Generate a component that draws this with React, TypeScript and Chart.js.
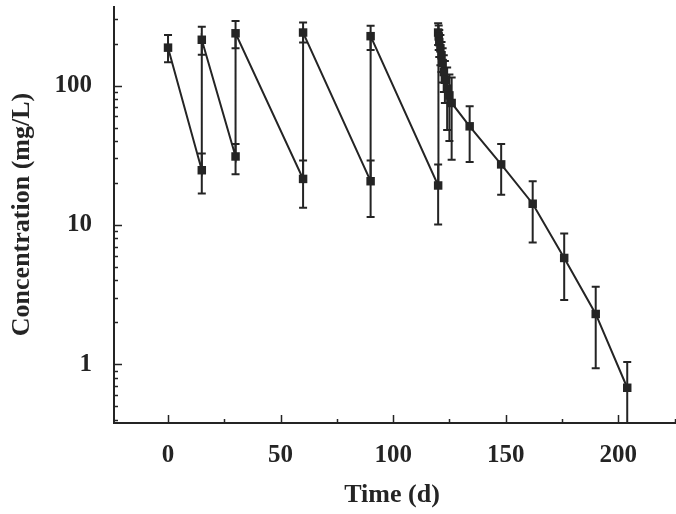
import React, { useEffect, useRef } from "react";
import { Chart, registerables } from "chart.js";

Chart.register(...registerables);

// ---- Data ----
const timeDays = [
  0, 15, 15, 30, 30, 60, 60, 90, 90, 120, 120,
  120.25, 120.5, 121, 121.5, 122, 122.5, 123, 124, 125, 126,
  134, 148, 162, 176, 190, 204,
];
const concentration = [
  187, 24.7, 213, 31, 237, 21.4, 240, 20.6, 226, 19.2, 240,
  225, 205, 185, 165, 145, 125, 110, 95, 85, 75,
  51, 27.2, 14.2, 5.8, 2.3, 0.68,
];
const errLow = [
  147, 16.8, 166, 23.1, 185, 13.3, 204, 11.4, 180, 10.1, 195,
  180, 160, 140, 125, 105, 90, 75, 48, 40, 29.4,
  28.3, 16.5, 7.5, 2.9, 0.94, 0.3,
];
const errHigh = [
  230, 32.5, 264, 38.1, 290, 29, 283, 29, 268, 27.2, 280,
  270, 250, 230, 205, 185, 165, 150, 135, 120, 114,
  71, 38.1, 20.6, 8.7, 3.6, 1.04,
];

const xMajorTicks = [0, 50, 100, 150, 200];
const xMinorTicks = [25, 75, 125, 175, 225];
const yMajorTicks = [1, 10, 100];
const yMinorTicks = [
  0.4, 0.5, 0.6, 0.7, 0.8, 0.9,
  2, 3, 4, 5, 6, 7, 8, 9,
  20, 30, 40, 50, 60, 70, 80, 90,
  200, 300,
];

const X_MIN = -24;
const X_MAX = 223;
const Y_MIN = 0.38;
const Y_MAX = 372;

const INK = "#242424";
const FONT_FAMILY = "'Liberation Serif', 'Times New Roman', serif";

const errorBarPlugin = {
  id: "errorBars",
  beforeDatasetsDraw(chart: any) {
    const { ctx, chartArea, scales } = chart;
    const xs = scales.x;
    const ys = scales.y;
    ctx.save();
    ctx.beginPath();
    ctx.rect(chartArea.left, chartArea.top - 2, chartArea.right - chartArea.left, chartArea.bottom - chartArea.top + 2);
    ctx.clip();
    ctx.strokeStyle = INK;
    ctx.lineWidth = 2;
    const cap = 4;
    for (let i = 0; i < timeDays.length; i++) {
      const px = xs.getPixelForValue(timeDays[i]);
      const pLo = ys.getPixelForValue(Math.max(errLow[i], Y_MIN * 0.5));
      const pHi = ys.getPixelForValue(errHigh[i]);
      ctx.beginPath();
      ctx.moveTo(px, pLo);
      ctx.lineTo(px, pHi);
      ctx.moveTo(px - cap, pHi);
      ctx.lineTo(px + cap, pHi);
      if (errLow[i] >= Y_MIN) {
        ctx.moveTo(px - cap, pLo);
        ctx.lineTo(px + cap, pLo);
      }
      ctx.stroke();
    }
    ctx.restore();
  },
};

const axesPlugin = {
  id: "axesDraw",
  afterDraw(chart: any) {
    const { ctx, chartArea, scales } = chart;
    const xs = scales.x;
    const ys = scales.y;
    const axisRight = chart.width;
    ctx.save();
    ctx.strokeStyle = INK;
    ctx.lineWidth = 2;
    ctx.beginPath();
    ctx.moveTo(chartArea.left, chartArea.top);
    ctx.lineTo(chartArea.left, chartArea.bottom);
    ctx.lineTo(axisRight, chartArea.bottom);
    ctx.stroke();
    ctx.lineWidth = 1.5;
    ctx.beginPath();
    for (const v of yMajorTicks) {
      const py = Math.round(ys.getPixelForValue(v)) + 0.5;
      ctx.moveTo(chartArea.left, py);
      ctx.lineTo(chartArea.left + 8, py);
    }
    for (const v of yMinorTicks) {
      const py = Math.round(ys.getPixelForValue(v)) + 0.5;
      ctx.moveTo(chartArea.left, py);
      ctx.lineTo(chartArea.left + 4, py);
    }
    for (const v of xMajorTicks) {
      const px = Math.round(xs.getPixelForValue(v)) + 0.5;
      ctx.moveTo(px, chartArea.bottom);
      ctx.lineTo(px, chartArea.bottom - 8);
    }
    for (const v of xMinorTicks) {
      const px = Math.round(xs.getPixelForValue(v)) + 0.5;
      if (px > axisRight) continue;
      ctx.moveTo(px, chartArea.bottom);
      ctx.lineTo(px, chartArea.bottom - 4);
    }
    ctx.stroke();
    ctx.restore();
  },
};

const zeroPadding = (scale: any) => {
  scale.paddingTop = 0;
  scale.paddingBottom = 0;
  scale.paddingLeft = 0;
  scale.paddingRight = 0;
};

export default function App() {
  const canvasRef = useRef<HTMLCanvasElement | null>(null);

  useEffect(() => {
    if (!canvasRef.current) return;
    const points = timeDays.map((t, i) => ({ x: t, y: concentration[i] }));
    const chart = new Chart(canvasRef.current, {
      type: "line",
      data: {
        datasets: [
          {
            label: "Concentration",
            data: points,
            borderColor: INK,
            borderWidth: 2,
            backgroundColor: INK,
            pointStyle: "rect",
            pointRadius: 6,
            pointBackgroundColor: INK,
            pointBorderColor: INK,
            pointBorderWidth: 0,
            tension: 0,
            fill: false,
          },
        ],
      },
      options: {
        animation: false,
        responsive: false,
        maintainAspectRatio: false,
        layout: { padding: { top: 3, right: 0, left: 0, bottom: 0 } },
        plugins: {
          legend: { display: false },
          tooltip: { enabled: false },
        },
        scales: {
          x: {
            type: "linear",
            min: X_MIN,
            max: X_MAX,
            afterBuildTicks: (scale: any) => {
              scale.ticks = xMajorTicks.map((v) => ({ value: v }));
            },
            afterFit: (scale: any) => {
              scale.height = 91;
              zeroPadding(scale);
            },
            grid: { display: false },
            border: { display: false },
            ticks: {
              color: INK,
              padding: 10,
              maxRotation: 0,
              font: { family: FONT_FAMILY, size: 25, weight: "bold" },
              callback: (v: any) => String(v),
            },
            title: {
              display: true,
              text: "Time (d)",
              color: INK,
              padding: { top: 0, bottom: 3 },
              font: { family: FONT_FAMILY, size: 26, weight: "bold" },
            },
          },
          y: {
            type: "logarithmic",
            min: Y_MIN,
            max: Y_MAX,
            afterBuildTicks: (scale: any) => {
              scale.ticks = yMajorTicks.map((v) => ({ value: v }));
            },
            afterFit: (scale: any) => {
              scale.width = 114;
              zeroPadding(scale);
            },
            grid: { display: false },
            border: { display: false },
            ticks: {
              color: INK,
              padding: 14,
              font: { family: FONT_FAMILY, size: 25, weight: "bold" },
              callback: (v: any) => String(v),
            },
            title: {
              display: true,
              text: "Concentration (mg/L)",
              color: INK,
              padding: { top: 7, bottom: 0 },
              font: { family: FONT_FAMILY, size: 26, weight: "bold" },
            },
          },
        },
      },
      plugins: [errorBarPlugin, axesPlugin],
    });
    return () => chart.destroy();
  }, []);

  return (
    <div style={{ position: "fixed", left: 0, top: 0, width: 676, height: 514, background: "#fff" }}>
      <canvas ref={canvasRef} width={676} height={514} style={{ width: 676, height: 514, display: "block" }} />
    </div>
  );
}
